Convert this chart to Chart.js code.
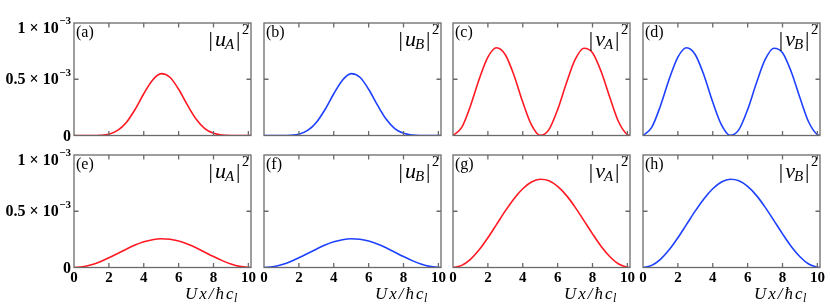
<!doctype html>
<html>
<head>
<title>Amplitudes |u|^2 and |v|^2</title>
<script src="https://cdn.jsdelivr.net/npm/chart.js@4.4.9/dist/chart.umd.min.js"></script>
<style>
body { margin: 0; background: #fff; }
#wrap { position: relative; width: 830px; height: 305px; }
#wrap canvas { position: absolute; left: 0; top: 0; }
</style>
<script>

// positions along the axis, U x / hbar c_l
const xs = [0, 0.5, 1, 1.5, 2, 2.5, 3, 3.5, 4, 4.5, 5, 5.5, 6, 6.5, 7, 7.5, 8, 8.5, 9, 9.5, 10, 10.15];

// values in units of 1e-3
const uA1 = [0, 0, 0.0001, 0.002, 0.012, 0.045, 0.116, 0.231, 0.371, 0.492, 0.550, 0.518, 0.411, 0.272, 0.146, 0.061, 0.019, 0.004, 0.0004, 0, 0, 0];
const uB1 = [0, 0, 0.0001, 0.002, 0.012, 0.045, 0.116, 0.231, 0.371, 0.492, 0.550, 0.518, 0.411, 0.272, 0.146, 0.061, 0.019, 0.004, 0.0004, 0, 0, 0];
const vA1 = [0, 0.072, 0.263, 0.500, 0.697, 0.780, 0.718, 0.534, 0.297, 0.094, 0.001, 0.052, 0.230, 0.465, 0.674, 0.776, 0.736, 0.567, 0.335, 0.120, 0.007, 0];
const vB1 = [0, 0.072, 0.263, 0.500, 0.697, 0.780, 0.718, 0.534, 0.297, 0.094, 0.001, 0.052, 0.230, 0.465, 0.674, 0.776, 0.736, 0.567, 0.335, 0.120, 0.007, 0];
const uA2 = [0, 0.006, 0.024, 0.051, 0.086, 0.125, 0.163, 0.199, 0.228, 0.247, 0.255, 0.251, 0.235, 0.209, 0.175, 0.136, 0.097, 0.061, 0.031, 0.010, 0.001, 0];
const uB2 = [0, 0.006, 0.024, 0.051, 0.086, 0.125, 0.163, 0.199, 0.228, 0.247, 0.255, 0.251, 0.235, 0.209, 0.175, 0.136, 0.097, 0.061, 0.031, 0.010, 0.001, 0];
const vA2 = [0, 0.019, 0.073, 0.157, 0.264, 0.383, 0.503, 0.612, 0.700, 0.760, 0.784, 0.771, 0.721, 0.641, 0.537, 0.419, 0.299, 0.187, 0.096, 0.031, 0.002, 0];
const vB2 = [0, 0.019, 0.073, 0.157, 0.264, 0.383, 0.503, 0.612, 0.700, 0.760, 0.784, 0.771, 0.721, 0.641, 0.537, 0.419, 0.299, 0.187, 0.096, 0.031, 0.002, 0];

const xTicks = [0, 2, 4, 6, 8, 10];
const xTickLabels = ['0', '2', '4', '6', '8', '10'];
const yTicks = [0, 0.5, 1];
const yTickLabels = ['0', '0.5 \u00d7 10^\u22123', '1 \u00d7 10^\u22123'];

const RED = 'rgb(255, 25, 35)';
const BLUE = 'rgb(30, 65, 255)';
const SERIF = '"Liberation Serif", "DejaVu Serif", serif';

const colLeft = [74, 264, 453, 643];
const rowTop = [23, 155];
const PW = 177, PH = 112.5;

const panels = [
  { tag: '(a)', v: 'u', s: 'A', vals: uA1, color: RED,  row: 0, col: 0 },
  { tag: '(b)', v: 'u', s: 'B', vals: uB1, color: BLUE, row: 0, col: 1 },
  { tag: '(c)', v: 'v', s: 'A', vals: vA1, color: RED,  row: 0, col: 2 },
  { tag: '(d)', v: 'v', s: 'B', vals: vB1, color: BLUE, row: 0, col: 3 },
  { tag: '(e)', v: 'u', s: 'A', vals: uA2, color: RED,  row: 1, col: 0 },
  { tag: '(f)', v: 'u', s: 'B', vals: uB2, color: BLUE, row: 1, col: 1 },
  { tag: '(g)', v: 'v', s: 'A', vals: vA2, color: RED,  row: 1, col: 2 },
  { tag: '(h)', v: 'v', s: 'B', vals: vB2, color: BLUE, row: 1, col: 3 },
];

function drawMath(ctx, right, top, v, s) {
  const bar = '22px ' + SERIF, main = 'italic 22px ' + SERIF;
  const sub = 'italic 15px ' + SERIF, sup = '14px ' + SERIF;
  ctx.font = bar; const wb = ctx.measureText('|').width;
  ctx.font = main; const wv = ctx.measureText(v).width;
  ctx.font = sub; const ws = ctx.measureText(s).width;
  ctx.font = sup; const w2 = ctx.measureText('2').width;
  const total = wb + 2 + wv - 1 + ws + 2 + wb + 1.5 + w2;
  let x = right - total;
  const base = top + 22.5;
  ctx.textAlign = 'left';
  ctx.textBaseline = 'alphabetic';
  ctx.font = bar; ctx.fillText('|', x, base); x += wb + 2;
  ctx.font = main; ctx.fillText(v, x, base); x += wv - 1;
  ctx.font = sub; ctx.fillText(s, x, base + 3.5); x += ws + 2;
  ctx.font = bar; ctx.fillText('|', x, base); x += wb + 1.5;
  ctx.font = sup; ctx.fillText('2', x, top + 11);
}

function decorate(chart, p) {
  const ctx = chart.ctx, ca = chart.chartArea;
  const sx = chart.scales.x, sy = chart.scales.y;
  ctx.save();

  // frame and inward ticks
  ctx.strokeStyle = '#6a6a6a';
  ctx.lineWidth = 1.3;
  ctx.strokeRect(ca.left, ca.top, ca.right - ca.left, ca.bottom - ca.top);
  ctx.beginPath();
  xTicks.forEach(t => {
    if (t === 0) return;
    const px = sx.getPixelForValue(t);
    ctx.moveTo(px, ca.top); ctx.lineTo(px, ca.top + 4.5);
    ctx.moveTo(px, ca.bottom); ctx.lineTo(px, ca.bottom - 4.5);
  });
  yTicks.forEach(t => {
    if (t === 0 || t === 1) return;
    const py = sy.getPixelForValue(t);
    ctx.moveTo(ca.left, py); ctx.lineTo(ca.left + 4.5, py);
    ctx.moveTo(ca.right, py); ctx.lineTo(ca.right - 4.5, py);
  });
  ctx.stroke();

  ctx.fillStyle = '#000';

  // panel tag
  ctx.font = '16px ' + SERIF;
  ctx.textAlign = 'left';
  ctx.textBaseline = 'alphabetic';
  ctx.fillText(p.tag, ca.left + 2, ca.top + 14);

  drawMath(ctx, ca.right - 2, ca.top, p.v, p.s);

  // y tick labels on the left column
  if (p.col === 0) {
    const rx = ca.left - 3;
    yTicks.forEach((t, i) => {
      let py = sy.getPixelForValue(t);
      if (t === 1) py += 4.5;
      const parts = yTickLabels[i].split('^');
      let bx = rx;
      ctx.textAlign = 'right';
      ctx.textBaseline = 'middle';
      if (parts.length > 1) {
        ctx.font = 'bold 11px ' + SERIF;
        ctx.fillText(parts[1], rx, py - 6.5);
        bx = rx - ctx.measureText(parts[1]).width - 0.5;
      }
      ctx.font = 'bold 16px ' + SERIF;
      ctx.fillText(parts[0], bx, py + 1);
    });
  }

  // x tick labels and axis title on the bottom row
  if (p.row === 1) {
    ctx.font = 'bold 15px ' + SERIF;
    ctx.textAlign = 'center';
    ctx.textBaseline = 'middle';
    xTicks.forEach((t, i) => {
      ctx.fillText(xTickLabels[i], sx.getPixelForValue(t), ca.bottom + 10.5);
    });

    ctx.textAlign = 'left';
    ctx.textBaseline = 'alphabetic';
    ctx.font = 'italic 17px ' + SERIF;
    let x = ca.left + 111;
    const base = ca.bottom + 31;
    ['U', 'x', '/', '\u0127', 'c'].forEach(ch => {
      ctx.fillText(ch, x, base);
      x += ctx.measureText(ch).width + 2;
    });
    ctx.font = 'italic 12px ' + SERIF;
    ctx.fillText('l', x - 1.5, base + 3);
  }
  ctx.restore();
}

function go() {
  const wrap = document.getElementById('wrap');
  panels.forEach(p => {
    const canvas = document.createElement('canvas');
    canvas.width = 830;
    canvas.height = 305;
    wrap.appendChild(canvas);
    const left = colLeft[p.col], top = rowTop[p.row];
    new Chart(canvas, {
      type: 'line',
      data: {
        datasets: [{
          data: xs.map((x, i) => ({ x: x, y: p.vals[i] })),
          borderColor: p.color,
          borderWidth: 1.6,
          pointRadius: 0,
          fill: false,
          cubicInterpolationMode: 'monotone',
        }]
      },
      options: {
        responsive: false,
        animation: false,
        events: [],
        layout: { padding: { left: left, top: top, right: 830 - left - PW, bottom: 305 - top - PH } },
        plugins: { legend: { display: false }, tooltip: { enabled: false } },
        scales: {
          x: { type: 'linear', min: 0, max: 10.15, display: false },
          y: { type: 'linear', min: 0, max: 1, display: false },
        }
      },
      plugins: [{ id: 'decor', afterDatasetsDraw: c => decorate(c, p) }]
    });
  });
}

window.onload = go;

</script>
</head>
<body>
<div id="wrap"></div>
</body>
</html>
